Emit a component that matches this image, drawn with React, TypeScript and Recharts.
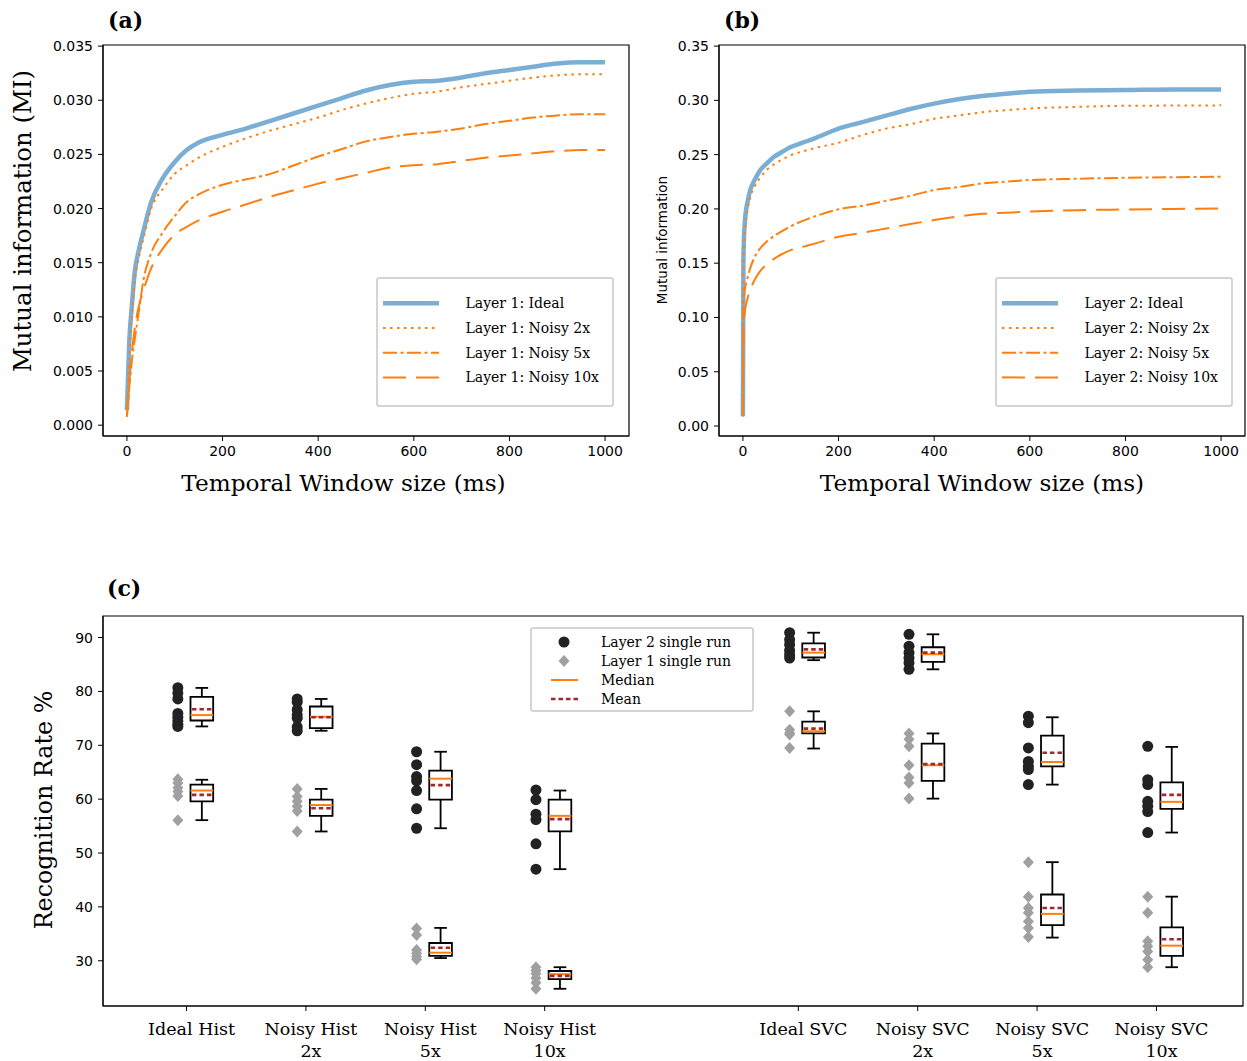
import React from 'react';
import {
  LineChart,
  Line,
  ScatterChart,
  Scatter,
  XAxis,
  YAxis,
  ReferenceArea,
  ReferenceLine,
} from 'recharts';

// ---- panel (a): layer 1 mutual information vs window size ----
const windowA = [0, 5, 10, 16, 25, 35, 50, 75, 100, 125, 150, 200, 250, 300, 350, 400, 450, 500, 550, 600, 650, 700, 750, 800, 850, 900, 950, 1000];
const l1Ideal = [0.0014, 0.0078, 0.0108, 0.014, 0.0162, 0.018, 0.0205, 0.0228, 0.0243, 0.0254, 0.0261, 0.0268, 0.0274, 0.0281, 0.0288, 0.0295, 0.0302, 0.0309, 0.0314, 0.0317, 0.0318, 0.0321, 0.0325, 0.0328, 0.0331, 0.0334, 0.0335, 0.0335];
const l1Noisy2 = [0.0008, 0.0065, 0.01, 0.0131, 0.0155, 0.0173, 0.0199, 0.0218, 0.0232, 0.024, 0.0247, 0.0257, 0.0265, 0.0272, 0.0278, 0.0284, 0.0291, 0.0297, 0.0302, 0.0306, 0.0308, 0.0312, 0.0315, 0.0318, 0.0321, 0.0323, 0.0324, 0.0324];
const l1Noisy5 = [0.0008, 0.0035, 0.0058, 0.0078, 0.0105, 0.0135, 0.0158, 0.0178, 0.0193, 0.0206, 0.0213, 0.0222, 0.0227, 0.0232, 0.024, 0.0248, 0.0255, 0.0262, 0.0266, 0.0269, 0.0271, 0.0274, 0.0278, 0.0281, 0.0284, 0.0286, 0.0287, 0.0287];
const l1Noisy10 = [0.0008, 0.004, 0.0065, 0.0088, 0.011, 0.0125, 0.0144, 0.0163, 0.0176, 0.0183, 0.0189, 0.0197, 0.0204, 0.0211, 0.0217, 0.0223, 0.0228, 0.0233, 0.0238, 0.024, 0.0241, 0.0244, 0.0247, 0.0249, 0.0251, 0.0253, 0.0254, 0.0254];
const ticksA = [0, 0.005, 0.01, 0.015, 0.02, 0.025, 0.03, 0.035];
const labelsA = ['Layer 1: Ideal', 'Layer 1: Noisy 2x', 'Layer 1: Noisy 5x', 'Layer 1: Noisy 10x'];

// ---- panel (b): layer 2 ----
const windowB = [0, 1, 2, 5, 10, 15, 25, 35, 50, 65, 80, 100, 125, 150, 200, 250, 300, 350, 400, 450, 500, 550, 600, 700, 800, 900, 1000];
const l2Ideal = [0.009, 0.15, 0.17, 0.193, 0.207, 0.217, 0.227, 0.235, 0.242, 0.248, 0.252, 0.257, 0.261, 0.265, 0.274, 0.28, 0.286, 0.292, 0.297, 0.301, 0.304, 0.306, 0.308, 0.309, 0.3095, 0.31, 0.31];
const l2Noisy2 = [0.009, 0.14, 0.16, 0.182, 0.2, 0.21, 0.221, 0.228, 0.236, 0.241, 0.245, 0.2495, 0.253, 0.256, 0.261, 0.268, 0.274, 0.278, 0.283, 0.286, 0.289, 0.291, 0.2925, 0.294, 0.295, 0.2952, 0.2954];
const l2Noisy5 = [0.009, 0.108, 0.118, 0.128, 0.137, 0.145, 0.156, 0.163, 0.17, 0.175, 0.179, 0.184, 0.189, 0.193, 0.1996, 0.203, 0.2075, 0.212, 0.2174, 0.22, 0.2235, 0.225, 0.2266, 0.2278, 0.2287, 0.2292, 0.2296];
const l2Noisy10 = [0.009, 0.085, 0.095, 0.108, 0.118, 0.125, 0.135, 0.142, 0.149, 0.154, 0.158, 0.162, 0.165, 0.168, 0.1744, 0.178, 0.182, 0.186, 0.1897, 0.193, 0.1955, 0.1965, 0.1975, 0.1988, 0.1995, 0.2, 0.2005];
const ticksB = [0, 0.05, 0.1, 0.15, 0.2, 0.25, 0.3, 0.35];
const labelsB = ['Layer 2: Ideal', 'Layer 2: Noisy 2x', 'Layer 2: Noisy 5x', 'Layer 2: Noisy 10x'];

const windowTicks = [0, 200, 400, 600, 800, 1000];

// ---- panel (c): recognition rate ----
const methodNames = [['Ideal Hist'], ['Noisy Hist', '2x'], ['Noisy Hist', '5x'], ['Noisy Hist', '10x'], ['Ideal SVC'], ['Noisy SVC', '2x'], ['Noisy SVC', '5x'], ['Noisy SVC', '10x']];
const methodX = [1, 2, 3, 4, 6.125, 7.125, 8.125, 9.125];

const layer2Runs = [
  [80.7, 79.7, 78.6, 75.9, 75.2, 74.5, 73.9, 73.5],
  [78.6, 78.0, 76.6, 75.6, 75.0, 73.4, 72.7],
  [68.8, 66.4, 64.2, 63.4, 61.6, 58.2, 54.6],
  [61.7, 59.9, 57.2, 56.2, 51.7, 47.0],
  [90.9, 89.6, 88.7, 87.6, 86.8, 86.2],
  [90.6, 88.4, 87.2, 86.2, 85.3, 84.1],
  [75.4, 74.2, 69.5, 67.0, 66.1, 65.5, 62.7],
  [69.8, 63.6, 62.7, 59.6, 58.7, 57.7, 53.8],
];
const layer1Runs = [
  [63.7, 63.0, 62.1, 61.4, 60.6, 56.1],
  [61.9, 60.5, 59.6, 58.7, 57.8, 54.0],
  [36.0, 34.8, 32.0, 31.4, 30.8, 30.3],
  [28.8, 28.2, 27.6, 26.8, 25.9, 24.8],
  [76.3, 72.9, 72.3, 72.0, 69.5],
  [72.2, 71.1, 69.8, 66.3, 64.0, 63.0, 60.1],
  [48.3, 41.9, 39.8, 38.9, 37.3, 36.1, 34.4],
  [41.9, 38.9, 33.6, 32.7, 31.7, 30.2, 28.8],
];

// box statistics
const l2Low = [73.5, 72.7, 54.6, 47.0, 85.8, 84.1, 62.7, 53.8];
const l2Q1 = [74.6, 73.2, 59.9, 54.0, 86.3, 85.5, 66.1, 58.2];
const l2Median = [75.6, 75.3, 63.8, 56.9, 87.2, 86.9, 66.9, 59.5];
const l2Mean = [76.7, 75.2, 62.6, 56.3, 87.8, 87.2, 68.6, 60.8];
const l2Q3 = [79.0, 77.2, 65.3, 59.9, 88.9, 88.2, 71.8, 63.1];
const l2High = [80.65, 78.6, 68.8, 61.6, 90.9, 90.6, 75.2, 69.7];

const l1Low = [56.1, 54.0, 30.5, 24.8, 69.4, 60.1, 34.3, 28.8];
const l1Q1 = [59.6, 56.9, 30.9, 26.6, 72.2, 63.4, 36.6, 30.9];
const l1Median = [61.6, 58.9, 31.5, 27.5, 72.6, 66.3, 38.7, 32.8];
const l1Mean = [60.8, 58.3, 32.4, 27.2, 73.1, 66.5, 39.8, 34.0];
const l1Q3 = [62.7, 59.9, 33.3, 28.1, 74.4, 70.3, 42.3, 36.2];
const l1High = [63.6, 61.9, 36.1, 28.8, 76.3, 72.2, 48.3, 41.9];

const rateTicks = [30, 40, 50, 60, 70, 80, 90];
const legendC = ['Layer 2 single run', 'Layer 1 single run', 'Median', 'Mean'];

// styles
const SERIF = 'DejaVu Serif';
const SANS = 'DejaVu Sans';
const BLUE = '#7aaed4';
const ORANGE = '#ff7f0e';
const MEAN_RED = '#a3282c';
const DOT_DX = -0.073;
const BOX_DX = 0.128;
const BOX_HALF = 0.095;
const CAP_HALF = 0.053;

const lineStyles = [
  { color: BLUE, width: 4.5, dash: undefined as string | undefined },
  { color: ORANGE, width: 2, dash: '2.5 4.5' },
  { color: ORANGE, width: 2, dash: '14 3.5 3 3.5' },
  { color: ORANGE, width: 2, dash: '23 10' },
];

const tickStyle = { fontSize: 14, fill: '#000', fontFamily: SANS };

const dataA = windowA.map((t, i) => ({ t, s0: l1Ideal[i], s1: l1Noisy2[i], s2: l1Noisy5[i], s3: l1Noisy10[i] }));
const dataB = windowB.map((t, i) => ({ t, s0: l2Ideal[i], s1: l2Noisy2[i], s2: l2Noisy5[i], s3: l2Noisy10[i] }));

const layer2Points = layer2Runs.flatMap((runs, i) => runs.map((v) => ({ x: methodX[i] + DOT_DX, y: v })));
const layer1Points = layer1Runs.flatMap((runs, i) => runs.map((v) => ({ x: methodX[i] + DOT_DX, y: v })));

const DotShape = (p: any) => <circle cx={p.cx} cy={p.cy} r={5.5} fill="#222" />;
const DiamondShape = (p: any) => (
  <path d={`M${p.cx},${p.cy - 6} L${p.cx + 5.5},${p.cy} L${p.cx},${p.cy + 6} L${p.cx - 5.5},${p.cy} Z`} fill="#a0a0a0" />
);

const MethodTick = (props: any) => {
  const { x, y, payload } = props;
  const idx = methodX.indexOf(payload.value);
  const lines = methodNames[idx] || [];
  return (
    <text x={x + 5} y={y} textAnchor="middle" fontFamily={SERIF} fontSize={17.5} fill="#000">
      {lines.map((l, k) => (
        <tspan key={k} x={x + 5} dy={k === 0 ? 19 : 21.5}>{l}</tspan>
      ))}
    </text>
  );
};

function renderBoxes(low: number[], q1: number[], med: number[], mean: number[], q3: number[], high: number[], tag: string) {
  const out: React.ReactNode[] = [];
  methodX.forEach((m, i) => {
    const bx = m + BOX_DX;
    const k = `${tag}${i}`;
    out.push(
      <ReferenceArea key={`${k}a`} x1={bx - BOX_HALF} x2={bx + BOX_HALF} y1={q1[i]} y2={q3[i]} fill="#fff" fillOpacity={1} stroke="#000" strokeWidth={1.8} ifOverflow="visible" />,
      <ReferenceLine key={`${k}w1`} segment={[{ x: bx, y: q3[i] }, { x: bx, y: high[i] }]} stroke="#000" strokeWidth={1.8} ifOverflow="visible" />,
      <ReferenceLine key={`${k}w2`} segment={[{ x: bx, y: low[i] }, { x: bx, y: q1[i] }]} stroke="#000" strokeWidth={1.8} ifOverflow="visible" />,
      <ReferenceLine key={`${k}c1`} segment={[{ x: bx - CAP_HALF, y: high[i] }, { x: bx + CAP_HALF, y: high[i] }]} stroke="#000" strokeWidth={1.8} ifOverflow="visible" />,
      <ReferenceLine key={`${k}c2`} segment={[{ x: bx - CAP_HALF, y: low[i] }, { x: bx + CAP_HALF, y: low[i] }]} stroke="#000" strokeWidth={1.8} ifOverflow="visible" />,
      <ReferenceLine key={`${k}md`} segment={[{ x: bx - BOX_HALF, y: med[i] }, { x: bx + BOX_HALF, y: med[i] }]} stroke={ORANGE} strokeWidth={2} ifOverflow="visible" />,
      <ReferenceLine key={`${k}mn`} segment={[{ x: bx - BOX_HALF + 0.012, y: mean[i] }, { x: bx + BOX_HALF, y: mean[i] }]} stroke={MEAN_RED} strokeWidth={2.6} strokeDasharray="4.5 3" ifOverflow="visible" />,
    );
  });
  return out;
}

function MiChart({ data, ticks, domain, digits }: { data: any[]; ticks: number[]; domain: [number, number]; digits: number }) {
  return (
    <LineChart width={630} height={480} data={data} margin={{ top: 45, right: 1, bottom: 0, left: 0 }}>
      <XAxis dataKey="t" type="number" domain={[-50, 1050]} ticks={windowTicks} allowDataOverflow interval={0}
        tick={tickStyle} tickSize={5} tickMargin={5} height={44} axisLine={{ stroke: '#000' }} tickLine={{ stroke: '#000' }} />
      <YAxis type="number" domain={domain} ticks={ticks} allowDataOverflow interval={0} width={103}
        tickFormatter={(v: number) => v.toFixed(digits)}
        tick={tickStyle} tickSize={5} tickMargin={5} axisLine={{ stroke: '#000' }} tickLine={{ stroke: '#000' }} />
      <ReferenceArea x1={-50} x2={1050} y1={domain[0]} y2={domain[1]} fill="none" stroke="#000" strokeWidth={1.2} ifOverflow="visible" />
      {lineStyles.map((s, k) => (
        <Line key={k} type="monotone" dataKey={`s${k}`} stroke={s.color} strokeWidth={s.width} strokeDasharray={s.dash}
          dot={false} activeDot={false} isAnimationActive={false} />
      ))}
    </LineChart>
  );
}

function LineLegend({ x, y, labels }: { x: number; y: number; labels: string[] }) {
  return (
    <g>
      <rect x={x} y={y} width={236} height={128} rx={2} fill="#fff" stroke="#c8c8c8" strokeWidth={1.5} />
      {labels.map((lab, k) => {
        const cy = y + 25.3 + k * 24.7;
        const s = lineStyles[k];
        return (
          <g key={k}>
            <line x1={x + 6} x2={x + 62} y1={cy} y2={cy} stroke={s.color} strokeWidth={s.width} strokeDasharray={s.dash} />
            <text x={x + 88.5} y={cy + 5} fontFamily={SERIF} fontSize={14} fill="#000">{lab}</text>
          </g>
        );
      })}
    </g>
  );
}

export default function App() {
  const domainA: [number, number] = [-0.001, 0.0351];
  const domainB: [number, number] = [-0.0092, 0.351];
  const domainC: [number, number] = [21.6, 94.0];
  return (
    <div style={{ position: 'absolute', left: 0, top: 0, width: 1247, height: 1061, background: '#fff', overflow: 'hidden' }}>
      <div style={{ position: 'absolute', left: 0, top: 0 }}>
        <MiChart data={dataA} ticks={ticksA} domain={domainA} digits={3} />
      </div>
      <div style={{ position: 'absolute', left: 616, top: 0 }}>
        <MiChart data={dataB} ticks={ticksB} domain={domainB} digits={2} />
      </div>
      <div style={{ position: 'absolute', left: 0, top: 560 }}>
        <ScatterChart width={1247} height={501} margin={{ top: 56, right: 4, bottom: 0, left: 0 }}>
          <XAxis dataKey="x" type="number" domain={[0.3, 9.85]} ticks={methodX} allowDataOverflow interval={0}
            tick={<MethodTick />} tickSize={5} tickMargin={5} height={55} axisLine={{ stroke: '#000' }} tickLine={{ stroke: '#000' }} />
          <YAxis dataKey="y" type="number" domain={domainC} ticks={rateTicks} allowDataOverflow interval={0} width={103}
            tick={tickStyle} tickSize={5} tickMargin={5} axisLine={{ stroke: '#000' }} tickLine={{ stroke: '#000' }} />
          <ReferenceArea x1={0.3} x2={9.85} y1={domainC[0]} y2={domainC[1]} fill="none" stroke="#000" strokeWidth={1.2} ifOverflow="visible" />
          {renderBoxes(l2Low, l2Q1, l2Median, l2Mean, l2Q3, l2High, 'l2')}
          {renderBoxes(l1Low, l1Q1, l1Median, l1Mean, l1Q3, l1High, 'l1')}
          <Scatter data={layer2Points} shape={DotShape} isAnimationActive={false} />
          <Scatter data={layer1Points} shape={DiamondShape} isAnimationActive={false} />
        </ScatterChart>
      </div>
      <svg width={1247} height={1061} style={{ position: 'absolute', left: 0, top: 0, pointerEvents: 'none' }}>
        <text x={108} y={28} fontFamily={SERIF} fontWeight="bold" fontSize={22} fill="#000">(a)</text>
        <text x={724} y={28} fontFamily={SERIF} fontWeight="bold" fontSize={22} fill="#000">(b)</text>
        <text x={107} y={596} fontFamily={SERIF} fontWeight="bold" fontSize={22} fill="#000">(c)</text>

        <text x={343.5} y={491} textAnchor="middle" fontFamily={SERIF} fontSize={23.2} fill="#000">Temporal Window size (ms)</text>
        <text x={982} y={491} textAnchor="middle" fontFamily={SERIF} fontSize={23.2} fill="#000">Temporal Window size (ms)</text>
        <text transform="translate(31,221) rotate(-90)" textAnchor="middle" fontFamily={SERIF} fontSize={24.4} fill="#000">Mutual information (MI)</text>
        <text transform="translate(667,240) rotate(-90)" textAnchor="middle" fontFamily={SANS} fontSize={13.5} fill="#000">Mutual information</text>
        <text transform="translate(52,810) rotate(-90)" textAnchor="middle" fontFamily={SERIF} fontSize={23.8} fill="#000">Recognition Rate %</text>

        <LineLegend x={377} y={278} labels={labelsA} />
        <LineLegend x={996} y={278} labels={labelsB} />

        <g>
          <rect x={531} y={628} width={222} height={83} rx={2} fill="#fff" stroke="#c8c8c8" strokeWidth={1.5} />
          <circle cx={564} cy={642} r={5.5} fill="#222" />
          <path d="M564,655 L569.5,661 L564,667 L558.5,661 Z" fill="#a0a0a0" />
          <line x1={551} x2={578} y1={680} y2={680} stroke={ORANGE} strokeWidth={2} />
          <line x1={551} x2={578} y1={699} y2={699} stroke={MEAN_RED} strokeWidth={2.6} strokeDasharray="4.5 3" />
          {legendC.map((lab, k) => (
            <text key={k} x={601} y={647 + k * 19} fontFamily={SERIF} fontSize={14} fill="#000">{lab}</text>
          ))}
        </g>
      </svg>
    </div>
  );
}
